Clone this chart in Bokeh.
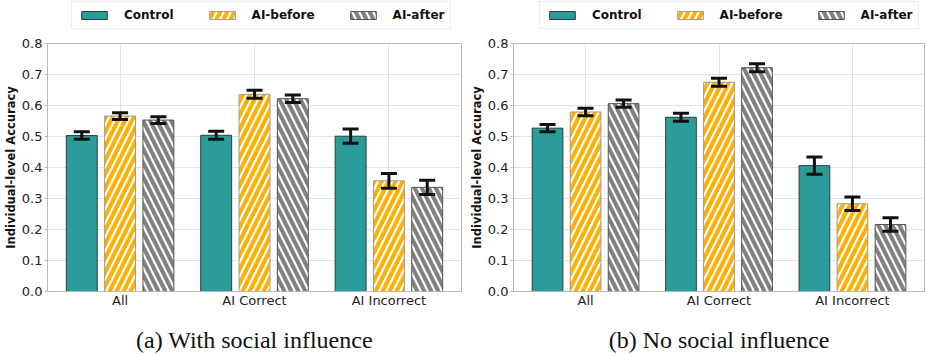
from bokeh.plotting import figure
from bokeh.models import (ColumnDataSource, Range1d, FixedTicker, Whisker, TeeHead,
                          Legend, LegendItem)
from bokeh.layouts import row, column
from bokeh.embed import file_html
from bokeh.resources import INLINE

categories = ["All", "AI Correct", "AI Incorrect"]
series_names = ["Control", "AI-before", "AI-after"]

social_control = [0.503, 0.504, 0.501]
social_control_err = [0.012, 0.013, 0.023]
social_before = [0.566, 0.636, 0.357]
social_before_err = [0.011, 0.013, 0.024]
social_after = [0.553, 0.622, 0.336]
social_after_err = [0.011, 0.012, 0.023]

nosocial_control = [0.527, 0.562, 0.406]
nosocial_control_err = [0.012, 0.013, 0.028]
nosocial_before = [0.579, 0.675, 0.283]
nosocial_before_err = [0.012, 0.013, 0.022]
nosocial_after = [0.606, 0.722, 0.216]
nosocial_after_err = [0.012, 0.013, 0.022]

y_ticks = [0.0, 0.1, 0.2, 0.3, 0.4, 0.5, 0.6, 0.7, 0.8]

captions = ["(a) With social influence", "(b) No social influence"]

OFFSETS = [-0.285, 0.0, 0.285]
BAR_W = 0.23
HATCH = dict(hatch_color="white", hatch_scale=14, hatch_weight=2.2)
STYLES = [
    dict(fill_color="#2a9d9a", line_color="#2f3b3b"),
    dict(fill_color="#ffb000", line_color="#9a9a9a", hatch_pattern="/", **HATCH),
    dict(fill_color="#808080", line_color="#555555", hatch_pattern="\\", **HATCH),
]


def make_legend_fig(width, legend_x, sources):
    # legend strip above a panel; its renderers share the panel's data but lie
    # outside this strip's visible y-range, so only the legend is seen
    f = figure(width=width, height=32, output_backend="svg", toolbar_location=None,
               x_range=Range1d(-0.54, 2.54), y_range=Range1d(5, 6),
               x_axis_type=None, y_axis_type=None,
               min_border_left=0, min_border_right=0, min_border_top=0, min_border_bottom=0)
    f.outline_line_color = None
    f.grid.visible = False
    rs = []
    for st, src in zip(STYLES, sources):
        rs.append(f.vbar(x="x", top="top", width=BAR_W, bottom=0, source=src,
                         line_width=1, **st))
    legend = Legend(items=[LegendItem(label=n, renderers=[r]) for n, r in zip(series_names, rs)],
                    orientation="horizontal", location=(legend_x, 3),
                    label_text_font="DejaVu Sans", label_text_font_style="bold",
                    label_text_font_size="12px", label_text_color="#111111",
                    label_height=14, label_text_baseline="middle",
                    glyph_width=32, glyph_height=10, label_standoff=14, spacing=32,
                    padding=6, margin=0, border_line_color="#dddddd",
                    border_line_width=1)
    f.add_layout(legend)
    return f


def make_panel(values, errs, caption, width, min_right):
    p = figure(width=width, height=323, output_backend="svg", toolbar_location=None,
               x_range=Range1d(-0.54, 2.54), y_range=Range1d(0, 0.8),
               min_border_left=0, min_border_right=min_right,
               min_border_top=11, min_border_bottom=63)
    p.outline_line_color = "#b8b8b8"
    p.grid.grid_line_color = "#e3e3e3"
    p.grid.grid_line_width = 1

    sources = []
    for k, (vals, er) in enumerate(zip(values, errs)):
        xs = [i + OFFSETS[k] for i in range(len(categories))]
        src = ColumnDataSource(dict(
            x=xs, top=vals,
            lower=[v - e for v, e in zip(vals, er)],
            upper=[v + e for v, e in zip(vals, er)],
        ))
        sources.append(src)
        p.vbar(x="x", top="top", width=BAR_W, bottom=0, source=src,
               line_width=1, **STYLES[k])
        w = Whisker(base="x", lower="lower", upper="upper", source=src,
                    level="overlay",
                    line_color="#111111", line_width=3,
                    upper_head=TeeHead(size=16, line_width=3, line_color="#111111"),
                    lower_head=TeeHead(size=16, line_width=3, line_color="#111111"))
        p.add_layout(w)

    p.xaxis.ticker = FixedTicker(ticks=list(range(len(categories))))
    p.xaxis.major_label_overrides = {i: c for i, c in enumerate(categories)}
    p.yaxis.ticker = FixedTicker(ticks=y_ticks)
    p.yaxis.major_label_overrides = {t: f"{t:.1f}" for t in y_ticks}

    for ax in (p.xaxis[0], p.yaxis[0]):
        ax.axis_line_color = "#b8b8b8"
        ax.major_tick_line_color = "#b8b8b8"
        ax.major_tick_in = 0
        ax.major_tick_out = 3
        ax.minor_tick_line_color = None
        ax.major_label_text_font = "DejaVu Sans"
        ax.major_label_text_font_size = "13px"
        ax.major_label_text_color = "#222222"
        ax.major_label_standoff = 2
    p.xaxis.major_tick_out = 0
    p.xaxis.major_label_standoff = 1

    p.yaxis.axis_label = "Individual-level Accuracy"
    p.yaxis.axis_label_text_font = "DejaVu Sans"
    p.yaxis.axis_label_text_font_size = "11.5px"
    p.yaxis.axis_label_text_font_style = "bold"
    p.yaxis.axis_label_text_color = "#111111"
    p.yaxis.axis_label_standoff = 1

    p.xaxis.axis_label = caption
    p.xaxis.axis_label_text_font = "Liberation Serif"
    p.xaxis.axis_label_text_font_size = "24px"
    p.xaxis.axis_label_text_font_style = "normal"
    p.xaxis.axis_label_text_color = "#111111"
    p.xaxis.axis_label_standoff = 16
    return p, sources


p1, s1 = make_panel([social_control, social_before, social_after],
                    [social_control_err, social_before_err, social_after_err],
                    captions[0], 466, 5)
p2, s2 = make_panel([nosocial_control, nosocial_before, nosocial_after],
                    [nosocial_control_err, nosocial_before_err, nosocial_after_err],
                    captions[1], 460, 2)
l1 = make_legend_fig(466, 24, s1)
l2 = make_legend_fig(460, 26, s2)

p = row(column(l1, p1), column(l2, p2))
open("out.html", "w").write(file_html(p, INLINE))
